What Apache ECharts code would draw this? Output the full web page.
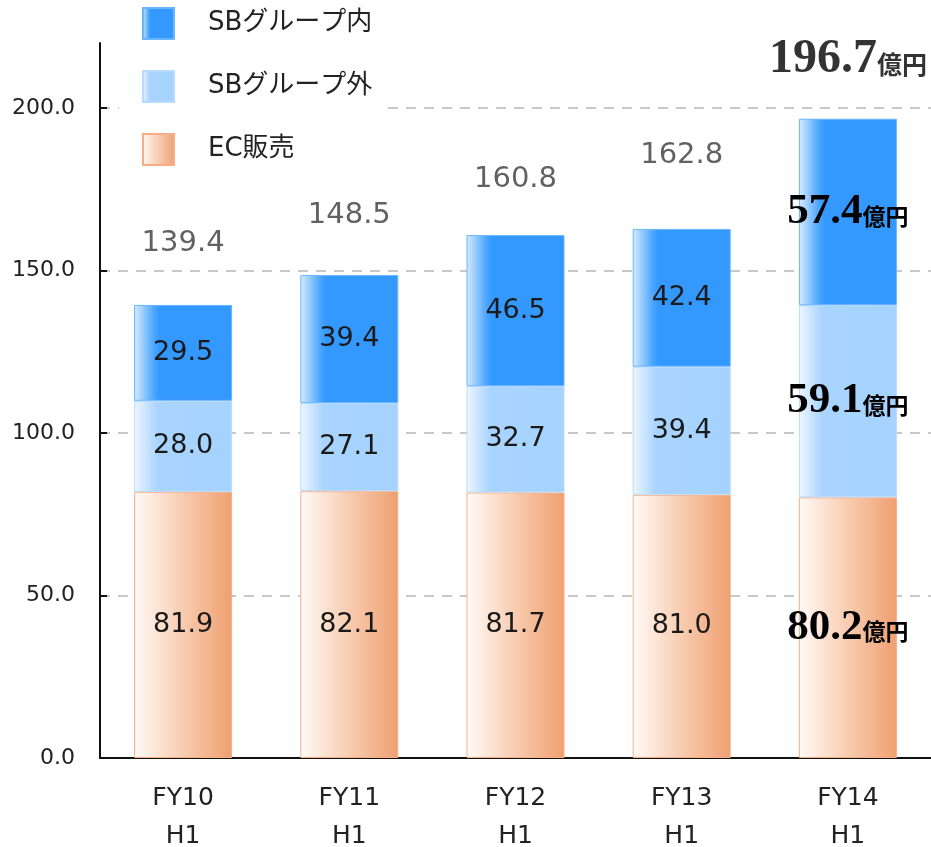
<!DOCTYPE html>
<html>
<head>
<meta charset="utf-8">
<script src="https://cdn.jsdelivr.net/npm/echarts@6/dist/echarts.min.js"></script>
<style>
  html, body { margin: 0; padding: 0; background: #fff; }
  #chart { width: 931px; height: 847px; }
</style>
</head>
<body>
<div id="chart"></div>
<script>
// 期間
const categories = ['FY10\nH1', 'FY11\nH1', 'FY12\nH1', 'FY13\nH1', 'FY14\nH1']
// 売上 (億円)
const ecSales = [81.9, 82.1, 81.7, 81.0, 80.2]
const sbOutside = [28.0, 27.1, 32.7, 39.4, 59.1]
const sbInside = [29.5, 39.4, 46.5, 42.4, 57.4]
const totals = [139.4, 148.5, 160.8, 162.8, 196.7]
const seriesNames = ['SBグループ内', 'SBグループ外', 'EC販売']
const yTicks = [0, 50, 100, 150, 200]

// 合計ラベルの持ち上げ量 (px)
const totalLift = [-61, -60, -56, -73, -59]
const LAST = categories.length - 1
const FONT = '"DejaVu Sans", "Noto Sans CJK JP", sans-serif'
const SERIF = '"Liberation Serif", "DejaVu Serif", serif'

function grad(stops) {
    return {
        type: 'linear', x: 0, y: 0, x2: 1, y2: 0,
        colorStops: stops.map(s => ({ offset: s[0], color: s[1] }))
    }
}

function segLabel(p) {
    if (p.dataIndex === LAST) return '{num|' + p.value.toFixed(1) + '}{unit|億円}'
    return p.value.toFixed(1)
}

const segLabelStyle = {
    show: true,
    position: 'inside',
    formatter: segLabel,
    fontFamily: FONT,
    fontSize: 27,
    color: '#1a1a1a',
    rich: {
        num: { fontFamily: SERIF, fontWeight: 'bold', fontSize: 43, color: '#000' },
        unit: { fontFamily: '"Noto Sans CJK JP", sans-serif', fontWeight: 'bold', fontSize: 23, color: '#000', padding: [8, 0, 0, 0] }
    }
}

const myChart = echarts.init(document.getElementById('chart'))
const option = {
    backgroundColor: '#fff',
    animation: false,
    grid: { left: 100, right: 0, top: 43, bottom: 89, containLabel: false, outerBoundsMode: 'none' },
    legend: {
        orient: 'vertical',
        left: 119,
        top: 2,
        padding: [5, 15, 5, 23],
        backgroundColor: '#fff',
        itemWidth: 31,
        itemHeight: 31,
        itemGap: 30,
        icon: 'rect',
        data: seriesNames,
        textStyle: { fontFamily: FONT, fontSize: 26, color: '#222', padding: [0, 0, 0, 29] }
    },
    xAxis: {
        type: 'category',
        data: categories,
        axisLine: { lineStyle: { color: '#111', width: 2 } },
        axisTick: { show: false },
        axisLabel: {
            fontFamily: FONT, fontSize: 25, color: '#222',
            lineHeight: 38, margin: 21
        }
    },
    yAxis: {
        type: 'value',
        min: 0,
        max: 220,
        interval: 50,
        axisLine: { show: true, lineStyle: { color: '#111', width: 2 } },
        axisTick: { show: true, inside: true, length: 7, customValues: yTicks, lineStyle: { color: '#111', width: 2 } },
        axisLabel: {
            fontFamily: FONT, fontSize: 22, color: '#222', margin: 25,
            customValues: yTicks,
            formatter: v => v.toFixed(1)
        },
        splitLine: {
            lineStyle: { color: '#c8c8c8', width: 2, type: [10, 8] }
        }
    },
    series: [
        {
            name: 'EC販売',
            type: 'bar',
            stack: 'total',
            barWidth: 98,
            data: ecSales,
            itemStyle: {
                color: grad([[0, '#fffaf7'], [0.5, '#f8ccb0'], [1, '#ef9f70']]),
                borderColor: '#f6ae88',
                borderWidth: 1
            },
            label: segLabelStyle
        },
        {
            name: 'SBグループ外',
            type: 'bar',
            stack: 'total',
            data: sbOutside,
            itemStyle: {
                color: grad([[0, '#eef6ff'], [0.24, '#a8d4ff'], [1, '#a6d2ff']]),
                borderColor: '#b8dcff',
                borderWidth: 1
            },
            label: segLabelStyle
        },
        {
            name: 'SBグループ内',
            type: 'bar',
            stack: 'total',
            data: sbInside,
            itemStyle: {
                color: grad([[0, '#d8ebff'], [0.2, '#4ea7ff'], [0.26, '#3399ff'], [1, '#3399ff']]),
                borderColor: '#6ab5ff',
                borderWidth: 1
            },
            label: segLabelStyle
        },
        {
            name: '合計',
            type: 'scatter',
            symbolSize: 1,
            itemStyle: { color: 'transparent' },
            data: totals,
            z: 5,
            label: {
                show: true,
                position: 'inside',
                fontFamily: FONT,
                fontSize: 29,
                color: '#3a3a3a',
                formatter: p => p.dataIndex === LAST
                    ? '{num|' + p.value.toFixed(1) + '}{unit|億円}'
                    : p.value.toFixed(1),
                rich: {
                    num: { fontFamily: SERIF, fontWeight: 'bold', fontSize: 48, color: '#000' },
                    unit: { fontFamily: '"Noto Sans CJK JP", sans-serif', fontWeight: 'bold', fontSize: 25, color: '#000', padding: [10, 0, 0, 0] }
                }
            }
        }
    ]
}
// 合計ラベルの位置を個別に調整
option.series[3].data = totals.map((v, i) => ({ value: v, label: { offset: [0, totalLift[i]] } }))
myChart.setOption(option)
</script>
</body>
</html>
